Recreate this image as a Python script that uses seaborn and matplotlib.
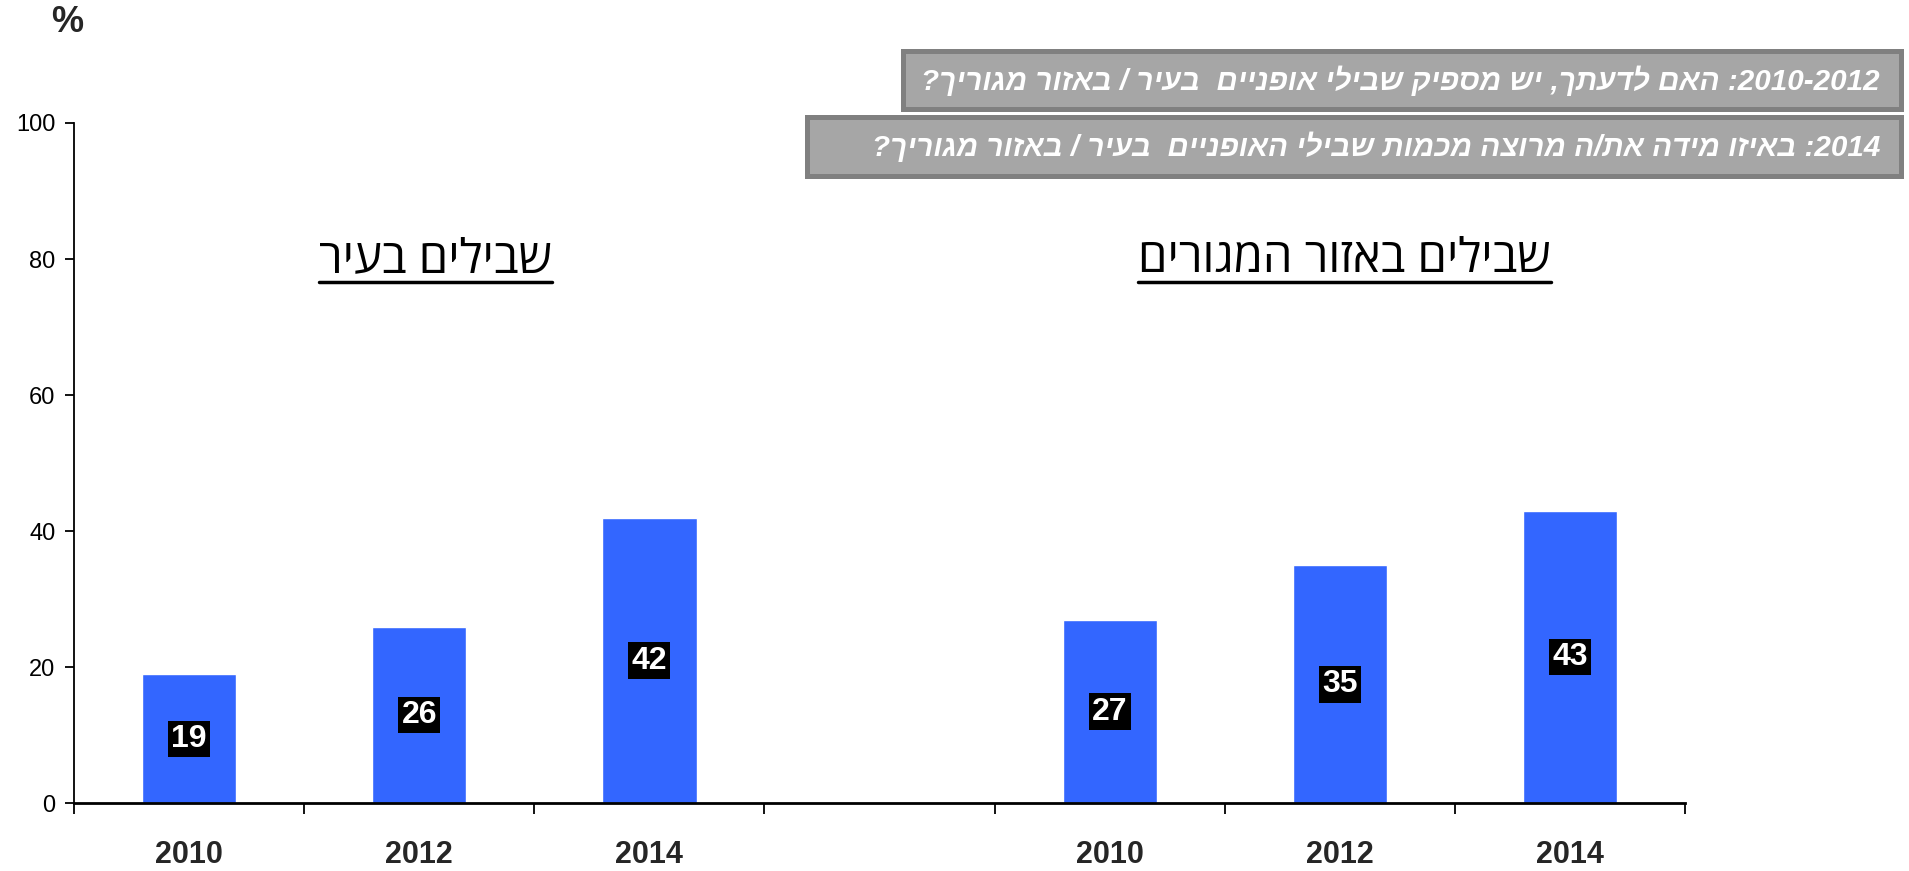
import re
import pandas as pd
import matplotlib
matplotlib.use("Agg")
import matplotlib.pyplot as plt
from matplotlib.lines import Line2D
from matplotlib.patches import Rectangle
import seaborn as sns

# data
years = ["2010", "2012", "2014"]
city_values = [19, 26, 42]
home_values = [27, 35, 43]
group_titles = ["שבילים בעיר", "שבילים באזור המגורים"]
question_lines = [
    "2010-2012: האם לדעתך, יש מספיק שבילי אופניים  בעיר / באזור מגוריך?",
    "2014: באיזו מידה את/ה מרוצה מכמות שבילי האופניים  בעיר / באזור מגוריך?",
]
y_ticks = [0, 20, 40, 60, 80, 100]

BAR_COLOR = "#3366FF"
W, H = 1909, 871

sns.set_style("white")
plt.rcParams["font.family"] = ["Liberation Sans", "DejaVu Sans"]


def visual(text):
    # matplotlib has no bidi: reverse to visual order, keep digit runs LTR
    rev = text[::-1]
    return re.sub(r"[0-9]+(?:-[0-9]+)*", lambda m: m.group(0)[::-1], rev)


# build a table with a gap slot between the two groups
slots = [f"city {y}" for y in years] + ["gap"] + [f"home {y}" for y in years]
df = pd.DataFrame({
    "slot": [f"city {y}" for y in years] + [f"home {y}" for y in years],
    "value": city_values + home_values,
})

fig = plt.figure(figsize=(W / 100, H / 100), dpi=100)
ax = fig.add_axes([0.0388, 0.0775, 0.8439, 0.7813])

sns.barplot(data=df, x="slot", y="value", order=slots, color=BAR_COLOR,
            saturation=1, width=0.41, ax=ax)

ax.set_xlim(-0.5, len(slots) - 0.5)
ax.set_ylim(0, 100)
ax.set_xlabel("")
ax.set_ylabel("")

# y axis
ax.set_yticks(y_ticks)
ax.set_yticklabels([str(t) for t in y_ticks], fontsize=17)
ax.tick_params(axis="y", direction="out", length=6.5, width=1.3, pad=7,
               left=True, colors="black")

# x axis: year labels at slot centres, tick marks at slot boundaries
ax.set_xticks(range(len(slots)))
ax.set_xticklabels(years + [""] + years, fontsize=22, fontweight="bold")
ax.tick_params(axis="x", which="major", length=0, pad=26)
ax.set_xticks([i - 0.5 for i in range(len(slots) + 1)], minor=True)
ax.tick_params(axis="x", which="minor", direction="out", length=8, width=1.3,
               bottom=True, colors="black")

for side in ["top", "right"]:
    ax.spines[side].set_visible(False)
ax.spines["left"].set_color("black")
ax.spines["left"].set_linewidth(1.3)
ax.spines["bottom"].set_color("black")
ax.spines["bottom"].set_linewidth(2)

# value labels: white bold on black box at mid height
xs = [0, 1, 2, 4, 5, 6]
for x, v in zip(xs, city_values + home_values):
    ax.text(x, v / 2, str(v), ha="center", va="center", color="white",
            fontsize=23, fontweight="bold",
            bbox=dict(boxstyle="square,pad=0.1", facecolor="black",
                      edgecolor="none"))

# group titles, underlined
title_texts = []
for x, t in zip([1.07, 5.02], group_titles):
    tt = ax.text(x, 80, visual(t), ha="center", va="center", fontsize=34,
                 family=["Open Sans", "DejaVu Sans"], color="black")
    title_texts.append(tt)

# percent sign
fig.text(67 / W, 1 - 23 / H, "%", ha="center", va="center",
         fontsize=26, fontweight="bold")

# question boxes at top right (pixel extents: left, top, right, bottom)
boxes = [(900, 49, 1903, 112), (804, 115, 1903, 179)]
for (x0, y0, x1, y1), q in zip(boxes, question_lines):
    b = 2.5  # half border width
    fig.add_artist(Rectangle(((x0 + b) / W, 1 - (y1 - b) / H),
                             (x1 - x0 - 2 * b) / W, (y1 - y0 - 2 * b) / H,
                             transform=fig.transFigure, facecolor="#a6a6a6",
                             edgecolor="#808080", linewidth=3.6))
    fig.text(1880 / W, 1 - (y0 + y1) / 2 / H, visual(q), ha="right",
             va="center", color="white", fontsize=21.3, fontweight="bold",
             fontstyle="italic")

fig.canvas.draw()
renderer = fig.canvas.get_renderer()
for tt in title_texts:
    bb = tt.get_window_extent(renderer)
    yline = bb.y0 + 1
    fig.add_artist(Line2D([bb.x0, bb.x1], [yline, yline], transform=None,
                          color="black", linewidth=2.5))

fig.savefig("out.png", dpi=100)
